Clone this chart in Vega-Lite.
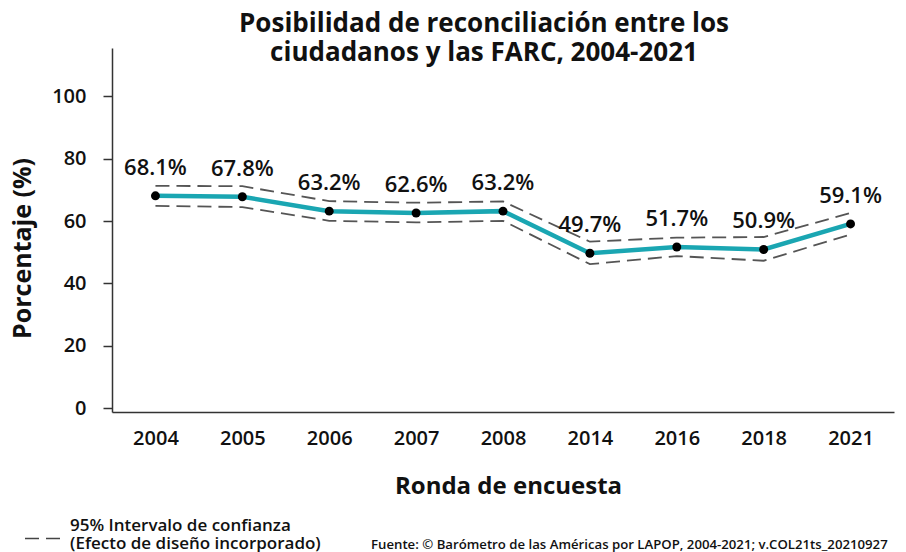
{
  "$schema": "https://vega.github.io/schema/vega-lite/v6.json",
  "width": 782,
  "height": 364,
  "autosize": {"type": "none"},
  "padding": {"left": 112, "top": 48, "right": 12, "bottom": 140},
  "background": "white",
  "config": {
    "view": {"stroke": null},
    "font": "Open Sans",
    "axis": {"grid": false, "domainColor": "#333", "domainWidth": 1.5, "tickColor": "#333", "tickWidth": 1.5, "labelColor": "#111", "titleColor": "#111", "labelFont": "Open Sans", "titleFont": "Open Sans"}
  },
  "title": {
    "text": ["Posibilidad de reconciliación entre los", "ciudadanos y las FARC, 2004-2021"],
    "fontSize": 26,
    "fontWeight": 700,
    "font": "Open Sans",
    "color": "#111",
    "lineHeight": 29,
    "anchor": "middle",
    "dx": -19,
    "offset": -18
  },
  "data": {
    "values": [
      {"year": "2004", "pct": 68.1, "lo": 64.9, "hi": 71.3, "label": "68.1%"},
      {"year": "2005", "pct": 67.8, "lo": 64.5, "hi": 71.2, "label": "67.8%"},
      {"year": "2006", "pct": 63.2, "lo": 60.1, "hi": 66.4, "label": "63.2%"},
      {"year": "2007", "pct": 62.6, "lo": 59.6, "hi": 65.9, "label": "62.6%"},
      {"year": "2008", "pct": 63.2, "lo": 60.1, "hi": 66.3, "label": "63.2%"},
      {"year": "2014", "pct": 49.7, "lo": 46.2, "hi": 53.4, "label": "49.7%"},
      {"year": "2016", "pct": 51.7, "lo": 48.8, "hi": 54.7, "label": "51.7%"},
      {"year": "2018", "pct": 50.9, "lo": 47.3, "hi": 54.9, "label": "50.9%"},
      {"year": "2021", "pct": 59.1, "lo": 55.7, "hi": 62.6, "label": "59.1%"}
    ]
  },
  "encoding": {
    "x": {
      "field": "year", "type": "ordinal",
      "scale": {"type": "point", "padding": 0.5},
      "axis": {"labelAngle": 0, "labelFontSize": 20, "labelFontWeight": 600, "ticks": false, "tickSize": 0, "labelPadding": 16, "title": "Ronda de encuesta", "titleFontSize": 24, "titleFontWeight": 700, "titlePadding": 26, "titleX": 396}
    }
  },
  "layer": [
    {
      "transform": [{"fold": ["lo", "hi"], "as": ["bound", "ci"]}],
      "mark": {"type": "line", "strokeWidth": 1.8, "color": "#555"},
      "encoding": {
        "y": {"field": "ci", "type": "quantitative"},
        "detail": {"field": "bound"},
        "strokeDash": {
          "datum": "ci",
          "scale": {"range": [[14, 7]]},
          "legend": {
            "orient": "none",
            "legendX": -88,
            "legendY": 472,
            "padding": 0,
            "symbolType": "stroke",
            "symbolSize": 1225,
            "symbolStrokeWidth": 1.5,
            "symbolStrokeColor": "#444",
            "labelExpr": "['95% Intervalo de confianza', '(Efecto de diseño incorporado)']",
            "labelFont": "Open Sans",
            "labelFontSize": 17,
            "labelFontWeight": 600,
            "labelColor": "#111",
            "labelLimit": 400,
            "labelOffset": 9,
            "title": "Fuente: © Barómetro de las Américas por LAPOP, 2004-2021; v.COL21ts_20210927",
            "titleOrient": "right",
            "titleAnchor": "end",
            "titleBaseline": "bottom",
            "titleFont": "Open Sans",
            "titleFontSize": 13.2,
            "titleFontWeight": 600,
            "titleColor": "#111",
            "titleLimit": 700,
            "titlePadding": 50,
            "encode": {
              "symbols": {"update": {"strokeDash": {"value": [13, 9]}}},
              "labels": {"update": {"lineHeight": {"value": 18}, "dy": {"value": -13}}}
            }
          }
        }
      }
    },
    {
      "mark": {"type": "line", "strokeWidth": 4.5, "color": "#1aa6b2"},
      "encoding": {
        "y": {
          "field": "pct", "type": "quantitative",
          "scale": {"domain": [-1.2, 115.5], "nice": false, "zero": false},
          "axis": {"values": [0, 20, 40, 60, 80, 100], "tickSize": 9, "labelPadding": 17, "labelFontSize": 20, "labelFontWeight": 600, "title": "Porcentaje (%)", "titleFontSize": 25, "titleFontWeight": 700, "titleX": -90, "titleY": 200, "titleAlign": "center", "titleBaseline": "middle"}
        }
      }
    },
    {
      "mark": {"type": "circle", "size": 80, "color": "#000", "opacity": 1},
      "encoding": {"y": {"field": "pct", "type": "quantitative"}}
    },
    {
      "mark": {"type": "text", "dy": -28, "fontSize": 22, "fontWeight": 600, "font": "Open Sans", "color": "#111"},
      "encoding": {
        "y": {"field": "pct", "type": "quantitative"},
        "text": {"field": "label", "type": "nominal"}
      }
    }
  ],
  "resolve": {"scale": {"y": "shared"}}
}
